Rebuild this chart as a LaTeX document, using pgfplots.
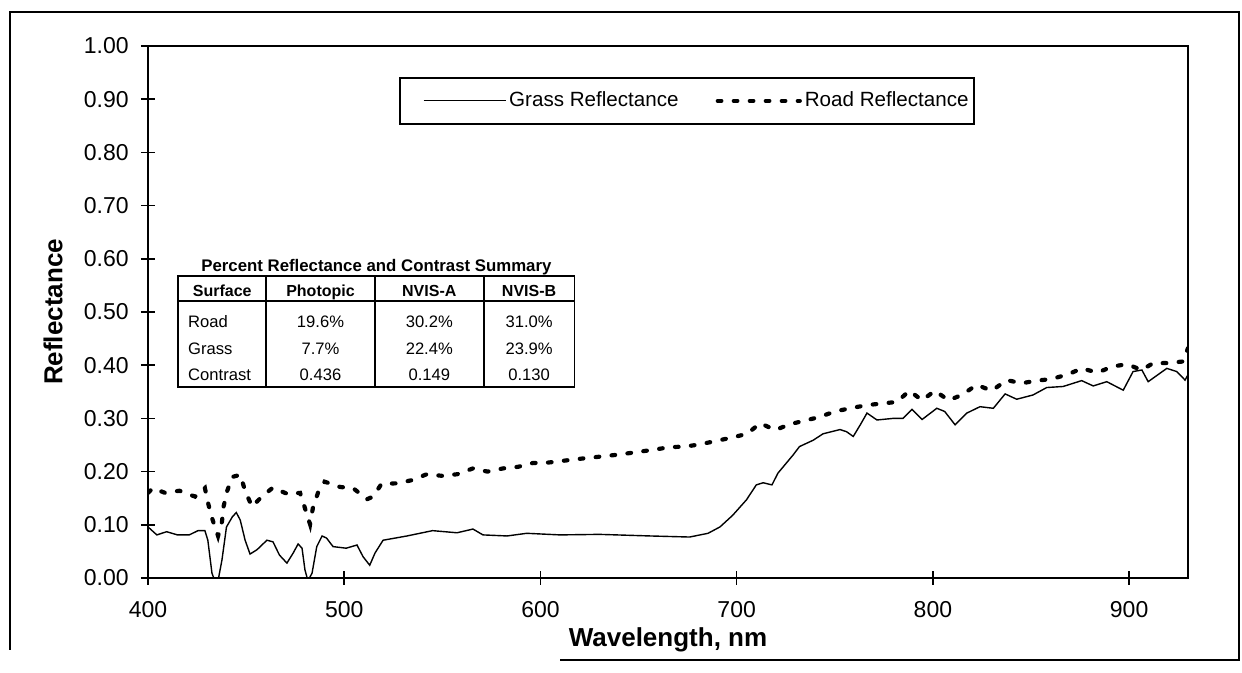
\documentclass[border=0pt]{standalone}
\usepackage{pgfplots}
\pgfplotsset{compat=1.18}
\usepackage{array}
\usepackage{fontspec}
\setmainfont{Liberation Sans}
\begin{document}
\begin{tikzpicture}[x=1pt,y=1pt]
\path[use as bounding box] (-74,-47.5) rectangle (547,289);
\draw[line width=1.3pt] (206,-41) -- (545.5,-41) -- (545.5,283) -- (-69,283) -- (-69,-36);
\begin{axis}[
  at={(0,0)}, anchor=south west,
  scale only axis, width=520pt, height=266pt,
  xmin=400, xmax=930, ymin=0, ymax=1,
  xtick={400,500,600,700,800,900},
  ytick={0,0.1,...,1.0},
  tick pos=left,
  tick align=center,
  major tick length=7pt,
  tick style={line width=0.8pt, black},
  axis line style={line width=1.3pt},
  /pgf/number format/assume math mode=true,
  yticklabel={\pgfmathprintnumber[fixed,fixed zerofill,precision=2]{\tick}},
  xticklabel={\pgfmathprintnumber[fixed,precision=0,1000 sep={}]{\tick}},
  tick label style={font=\fontsize{11.5}{13}\selectfont},
  yticklabel style={inner sep=0pt, xshift=-6pt},
  xticklabel style={inner sep=0pt, yshift=-8pt},
  every axis y label/.style={at={(axis description cs:-0.0913,0.5)}, rotate=90, anchor=center},
  every axis x label/.style={at={(axis description cs:0.5,-0.1165)}, anchor=center},
  label style={font=\bfseries\fontsize{13}{15}\selectfont},
  xlabel={Wavelength, nm},
  ylabel={Reflectance},
  legend columns=2,
  legend style={at={(rel axis cs:0.518,0.897)}, anchor=center, draw=black, line width=0.9pt,
    font=\fontsize{10.3}{12}\selectfont, inner xsep=1pt, inner ysep=5pt,
    nodes={inner xsep=1.5pt},
    /tikz/every even column/.append style={column sep=6.5pt}},
  legend image code/.code={\path (-10.5pt,0pt); \draw[#1] (0pt,0pt) -- (41pt,0pt);},
]
\addplot[black, line width=0.7pt] coordinates {
(400,0.096) (404.5,0.081) (409.5,0.087) (415,0.081) (421,0.081) (425.5,0.089) (429,0.089)
(430.5,0.071) (432.6,0.009) (434,-0.005) (435.7,-0.005) (437.7,0.034) (440,0.096) (443,0.115)
(445,0.123) (447,0.109) (449.5,0.071) (452,0.045) (455.5,0.053) (460.6,0.071) (463.7,0.068)
(467,0.043) (470.8,0.028) (474,0.047) (476.5,0.064) (478.5,0.056) (480,0.015) (481.5,-0.005)
(483.6,0.009) (486,0.059) (488.7,0.079) (491,0.075) (494.3,0.059) (501,0.056) (506.5,0.062)
(509.6,0.04) (513,0.024) (515.7,0.047) (519.8,0.071) (532,0.079) (545,0.089) (557.5,0.085)
(565.6,0.092) (570.7,0.081) (583,0.079) (593,0.084) (610,0.081) (630,0.082) (656,0.079)
(676,0.077) (685.4,0.084) (691.5,0.096) (698,0.118) (705,0.147) (710,0.175) (713.5,0.179)
(718,0.175) (721,0.197) (728.7,0.231) (732,0.247) (739,0.259) (744,0.271) (752.7,0.279)
(756,0.275) (759.4,0.266) (763,0.288) (766.4,0.31) (771.5,0.297) (779.7,0.30) (784.8,0.30)
(789.3,0.317) (794.5,0.298) (802,0.319) (806,0.313) (811.3,0.288) (817.3,0.31) (824,0.322)
(830.8,0.319) (836.8,0.346) (842.7,0.336) (851,0.344) (858,0.358) (866.4,0.36) (875.8,0.371)
(881.7,0.361) (888.6,0.369) (897,0.353) (902,0.388) (906.5,0.391) (909.7,0.369) (919.2,0.394)
(924.3,0.388) (928.5,0.372) (930,0.382)
};
\addlegendentry{Grass Reflectance}
\addplot[black, line width=2.1pt, line cap=round, dash pattern=on 1.8pt off 6.2pt] coordinates {
(400,0.16) (402.5,0.169) (408.7,0.16) (416,0.164) (424,0.153) (429,0.169) (430.6,0.141)
(432.6,0.113) (435.7,0.079) (437.7,0.106) (438.5,0.134) (440.4,0.164) (443,0.19) (447,0.194)
(449.5,0.164) (453,0.134) (458,0.153) (463.7,0.17) (471,0.158) (477.5,0.16) (480,0.131)
(482.6,0.101) (484,0.131) (486.6,0.16) (490,0.181) (498,0.171) (504.5,0.169) (511.6,0.148)
(514.7,0.153) (519,0.177) (527,0.178) (534.6,0.184) (542,0.195) (550,0.192) (557.5,0.195)
(565.6,0.206) (573,0.2) (581,0.206) (588.6,0.209) (596,0.216) (604,0.217) (620,0.224)
(640,0.232) (657.5,0.241) (666,0.246) (673.7,0.247) (681,0.251) (690,0.258) (697.6,0.264)
(705.3,0.271) (712,0.291) (719.6,0.278) (727,0.289) (735,0.296) (742.5,0.303) (750,0.313)
(757.8,0.319) (766.4,0.325) (774,0.328) (781.7,0.331) (788,0.352) (794.5,0.334) (801,0.352)
(808,0.334) (814.7,0.344) (822.3,0.363) (830,0.352) (837.6,0.372) (845.2,0.366) (852.9,0.371)
(860.5,0.374) (869,0.383) (875.8,0.394) (884,0.386) (891,0.397) (898.8,0.402) (906.4,0.391)
(912.3,0.404) (920,0.404) (927.5,0.407) (930,0.432)
};
\addlegendentry{Road Reflectance}
\node[anchor=south west, inner sep=0pt] at (rel axis cs:0.0279,0.357) {%
\setlength{\tabcolsep}{0pt}\setlength{\arrayrulewidth}{0.9pt}%
\renewcommand{\arraystretch}{0.3}%
\fontsize{8.3}{10}\selectfont
\begin{tabular}{|>{\hspace{4.5pt}}p{43pt}|>{\centering\arraybackslash}p{53.5pt}|>{\centering\arraybackslash}p{53.5pt}|>{\centering\arraybackslash}p{44.5pt}|}
\multicolumn{4}{c}{\rule[-1pt]{0pt}{8.5pt}\bfseries\fontsize{8.4}{9}\selectfont Percent Reflectance and Contrast Summary}\\
\hline
\multicolumn{1}{|c|}{\rule[-1.3pt]{0pt}{11.3pt}\bfseries\fontsize{8}{9}\selectfont Surface} & \bfseries\fontsize{8}{9}\selectfont Photopic & \bfseries\fontsize{8}{9}\selectfont NVIS-A & \bfseries\fontsize{8}{9}\selectfont NVIS-B\\
\hline
\rule[-2.5pt]{0pt}{15.5pt}Road & 19.6\% & 30.2\% & 31.0\%\\
\rule[-2.5pt]{0pt}{13.5pt}Grass & 7.7\% & 22.4\% & 23.9\%\\
\rule[-2.5pt]{0pt}{13pt}Contrast & 0.436 & 0.149 & 0.130\\
\hline
\end{tabular}};
\end{axis}
\end{tikzpicture}
\end{document}
